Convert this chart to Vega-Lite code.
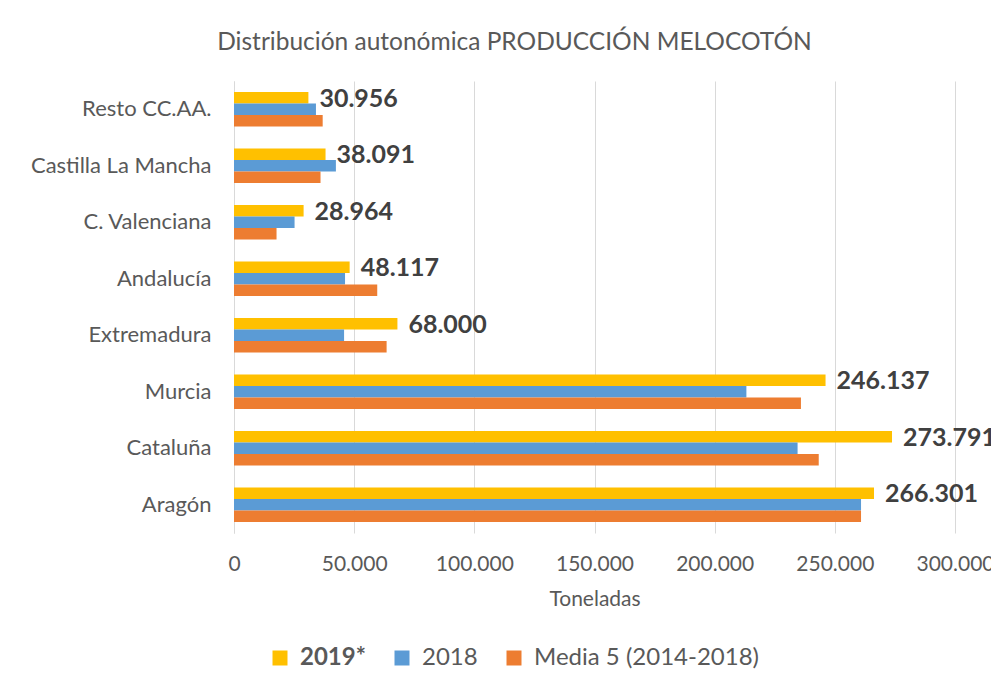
{
  "$schema": "https://vega.github.io/schema/vega-lite/v6.json",
  "width": 721,
  "height": 452,
  "autosize": "none",
  "padding": {"left": 234, "top": 81, "right": 36, "bottom": 155},
  "background": "white",
  "title": {
    "text": "Distribución autonómica PRODUCCIÓN MELOCOTÓN",
    "font": "Lato",
    "fontSize": 24.5,
    "fontWeight": "normal",
    "color": "#595959",
    "anchor": "middle",
    "dx": -80,
    "offset": 26
  },
  "data": {
    "values": [
      {"region": "Resto CC.AA.", "series": "2019*", "value": 30956},
      {"region": "Resto CC.AA.", "series": "2018", "value": 34100},
      {"region": "Resto CC.AA.", "series": "Media 5 (2014-2018)", "value": 36900},
      {"region": "Castilla La Mancha", "series": "2019*", "value": 38091},
      {"region": "Castilla La Mancha", "series": "2018", "value": 42400},
      {"region": "Castilla La Mancha", "series": "Media 5 (2014-2018)", "value": 36000},
      {"region": "C. Valenciana", "series": "2019*", "value": 28964},
      {"region": "C. Valenciana", "series": "2018", "value": 25200},
      {"region": "C. Valenciana", "series": "Media 5 (2014-2018)", "value": 17700},
      {"region": "Andalucía", "series": "2019*", "value": 48117},
      {"region": "Andalucía", "series": "2018", "value": 46200},
      {"region": "Andalucía", "series": "Media 5 (2014-2018)", "value": 59600},
      {"region": "Extremadura", "series": "2019*", "value": 68000},
      {"region": "Extremadura", "series": "2018", "value": 45800},
      {"region": "Extremadura", "series": "Media 5 (2014-2018)", "value": 63500},
      {"region": "Murcia", "series": "2019*", "value": 246137},
      {"region": "Murcia", "series": "2018", "value": 213200},
      {"region": "Murcia", "series": "Media 5 (2014-2018)", "value": 235900},
      {"region": "Cataluña", "series": "2019*", "value": 273791},
      {"region": "Cataluña", "series": "2018", "value": 234500},
      {"region": "Cataluña", "series": "Media 5 (2014-2018)", "value": 243300},
      {"region": "Aragón", "series": "2019*", "value": 266301},
      {"region": "Aragón", "series": "2018", "value": 260900},
      {"region": "Aragón", "series": "Media 5 (2014-2018)", "value": 260900}
    ]
  },
  "encoding": {
    "y": {
      "field": "region",
      "type": "nominal",
      "sort": ["Resto CC.AA.", "Castilla La Mancha", "C. Valenciana", "Andalucía", "Extremadura", "Murcia", "Cataluña", "Aragón"],
      "scale": {"paddingInner": 0.39, "paddingOuter": 0.195},
      "axis": {
        "title": null,
        "domain": true,
        "domainColor": "#D9D9D9",
        "domainWidth": 1,
        "ticks": false,
        "grid": false,
        "labelFont": "Lato",
        "labelFontSize": 22,
        "labelColor": "#595959",
        "labelPadding": 23,
        "labelLimit": 300
      }
    },
    "yOffset": {
      "field": "series",
      "type": "nominal",
      "sort": ["2019*", "2018", "Media 5 (2014-2018)"]
    },
    "x": {
      "field": "value",
      "type": "quantitative",
      "scale": {"domain": [0, 300000], "nice": false},
      "axis": {
        "title": "Toneladas",
        "titleFont": "Lato",
        "titleFontSize": 21,
        "titleFontWeight": "normal",
        "titleColor": "#595959",
        "titlePadding": 14,
        "values": [0, 50000, 100000, 150000, 200000, 250000, 300000],
        "labelExpr": "replace(format(datum.value, ',d'), ',', '.')",
        "labelFont": "Lato",
        "labelFontSize": 21,
        "labelColor": "#595959",
        "labelPadding": 20,
        "labelFlush": false,
        "domain": false,
        "ticks": false,
        "grid": true,
        "gridColor": "#D9D9D9",
        "gridWidth": 1
      }
    }
  },
  "layer": [
    {
      "mark": {"type": "bar"},
      "encoding": {
        "color": {
          "field": "series",
          "type": "nominal",
          "sort": ["2019*", "2018", "Media 5 (2014-2018)"],
          "scale": {"domain": ["2019*", "2018", "Media 5 (2014-2018)"], "range": ["#FFC000", "#5B9BD5", "#ED7D31"]},
          "legend": {
            "title": null,
            "orient": "none",
            "direction": "horizontal",
            "legendX": 34,
            "legendY": 565,
            "symbolType": "square",
            "symbolSize": 225,
            "symbolStrokeWidth": 0,
            "labelFont": "Lato",
            "labelFontSize": 24,
            "labelColor": "#595959",
            "labelOffset": 8,
            "labelLimit": 400,
            "columnPadding": 24,
            "encode": {
              "labels": {
                "update": {
                  "fontWeight": {"signal": "datum.value === '2019*' ? 'bold' : 'normal'"}
                }
              }
            }
          }
        }
      }
    },
    {
      "transform": [{"filter": "datum.series === '2019*'"}],
      "mark": {
        "type": "text",
        "align": "left",
        "baseline": "middle",
        "dx": 11,
        "dy": 1,
        "font": "Lato",
        "fontSize": 25,
        "fontWeight": "bold",
        "color": "#404040"
      },
      "encoding": {
        "text": {"field": "value", "type": "quantitative", "format": ",d"}
      }
    }
  ],
  "config": {
    "view": {"stroke": null},
    "locale": {"number": {"decimal": ",", "thousands": ".", "grouping": [3], "currency": ["", " €"]}}
  }
}
